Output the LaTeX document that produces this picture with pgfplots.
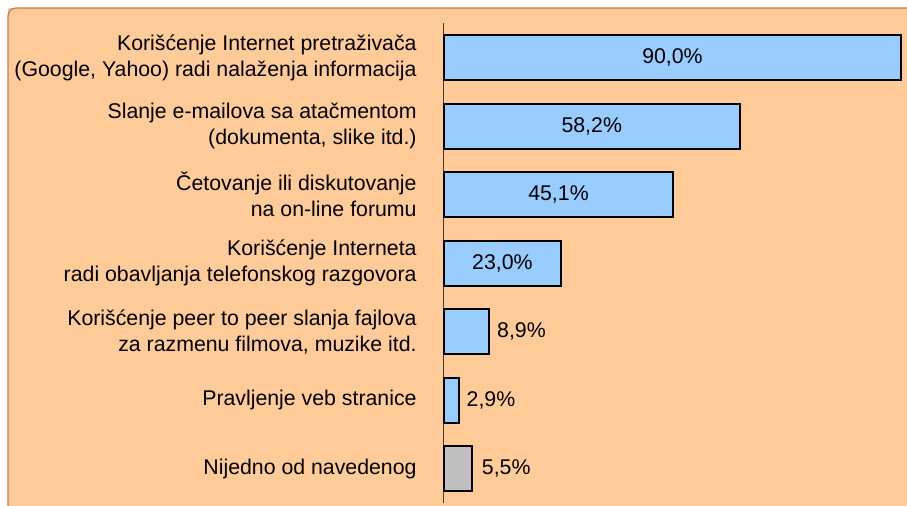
\documentclass[border=0pt]{standalone}
\usepackage{pgfplots}
\pgfplotsset{compat=1.18}
\usepackage{fontspec}
\setmainfont{Liberation Sans}
\definecolor{bgpeach}{HTML}{FFCC99}
\definecolor{bgedge}{HTML}{C8784A}
\definecolor{barblue}{HTML}{99CCFF}
\definecolor{bargray}{HTML}{C0C0C0}

\begin{document}
\begin{tikzpicture}
\path[use as bounding box] (0,0) rectangle (453.5pt,253pt);
\fill[bgpeach] (4pt,0) rectangle (453.5pt,249pt);
\draw[bgedge, line width=0.6pt, rounded corners=4pt] (4pt,-1pt) -- (4pt,249pt) -- (454pt,249pt);
\begin{axis}[
  at={(222pt,1.4pt)}, anchor=south west,
  scale only axis, width=231.5pt, height=240pt,
  xbar, bar width=22.5pt, bar shift=0pt,
  xmin=0, xmax=91.18, ymin=-0.5, ymax=6.5, y dir=reverse,
  axis x line=none, axis y line*=left,
  y axis line style={-, black!75, line width=0.5pt},
  ytick={0,...,6}, major tick length=0pt,
  yticklabels={
    {Korišćenje Internet pretraživača\\(Google, Yahoo) radi nalaženja informacija},
    {Slanje e-mailova sa atačmentom\\(dokumenta, slike itd.)},
    {Četovanje ili diskutovanje\\na on-line forumu},
    {Korišćenje Interneta\\radi obavljanja telefonskog razgovora},
    {Korišćenje peer to peer slanja fajlova\\za razmenu filmova, muzike itd.},
    {Pravljenje veb stranice},
    {Nijedno od navedenog}},
  yticklabel style={align=right, inner sep=0pt, xshift=-13.5pt,
    font=\fontsize{10.65}{12.9}\selectfont},
  clip=false,
  point meta=x,
  nodes near coords={\pgfmathprintnumber[fixed, fixed zerofill, precision=1, use comma, assume math mode=true]{\pgfplotspointmeta}\%},
  every node near coord/.append style={font=\fontsize{10.65}{12.9}\selectfont, text=black},
]
% values inside the bar, centred
\addplot[fill=barblue, draw=black, line width=1pt,
  visualization depends on={x \as \rawx},
  nodes near coords style={anchor=center, inner sep=0pt, xshift={-1.26947*\rawx}}]
  coordinates {(90.0,0) (58.2,1) (45.1,2) (23.0,3)};
% small bars, value to the right
\addplot[fill=barblue, draw=black, line width=1pt,
  nodes near coords style={anchor=west, inner sep=0pt, xshift=3.5pt}]
  coordinates {(8.9,4) (2.9,5)};
\addplot[fill=bargray, draw=black, line width=1pt,
  nodes near coords style={anchor=west, inner sep=0pt, xshift=4.5pt}]
  coordinates {(5.5,6)};
\end{axis}
\end{tikzpicture}
\end{document}
